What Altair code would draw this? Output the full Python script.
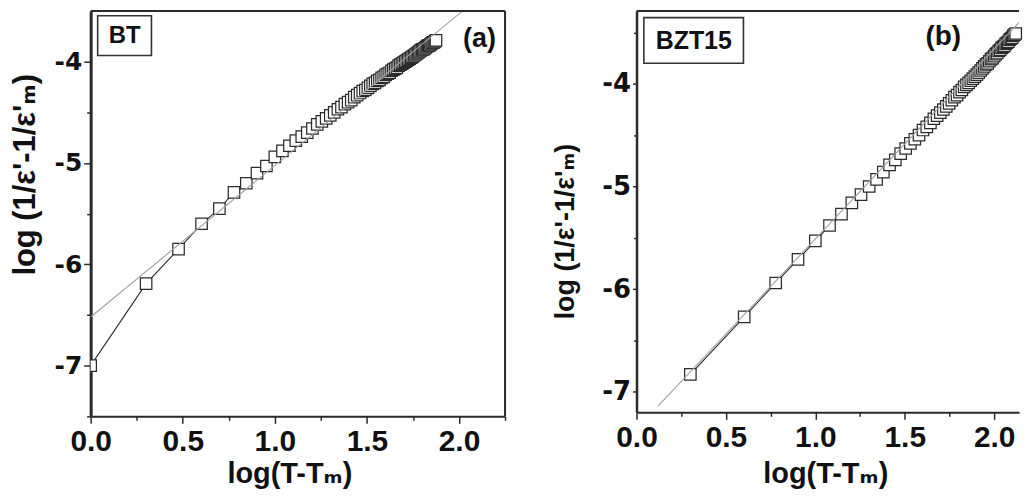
import altair as alt
import pandas as pd
import numpy as np

# ---------------- data ----------------
# Panel (a): BT
bt_dT = list(range(1, 76))
bt_y = [-7.00, -6.19, -5.85, -5.60, -5.45, -5.29, -5.20, -5.10, -5.03, -4.94,
        -4.88, -4.83, -4.78, -4.74, -4.70, -4.66, -4.62, -4.59, -4.56, -4.53,
        -4.50, -4.47, -4.45, -4.42, -4.40, -4.38, -4.35, -4.33, -4.31, -4.29,
        -4.28, -4.26, -4.24, -4.22, -4.21, -4.19, -4.18, -4.16, -4.15, -4.13,
        -4.12, -4.11, -4.09, -4.08, -4.07, -4.06, -4.04, -4.03, -4.02, -4.01,
        -4.00, -3.99, -3.98, -3.97, -3.96, -3.95, -3.94, -3.93, -3.92, -3.91,
        -3.90, -3.89, -3.88, -3.88, -3.87, -3.86, -3.85, -3.84, -3.84, -3.83,
        -3.82, -3.81, -3.81, -3.80, -3.79]
bt_fit_x = [0.0, 2.02]
bt_fit_y = [-6.52, -3.50]

# Panel (b): BZT15
bzt_dT = list(range(2, 133, 2))
bzt_y = [-6.83, -6.27, -5.94, -5.71, -5.53, -5.38, -5.27, -5.16, -5.08, -5.00,
         -4.93, -4.86, -4.79, -4.74, -4.68, -4.63, -4.58, -4.54, -4.50, -4.45,
         -4.42, -4.38, -4.34, -4.31, -4.28, -4.25, -4.22, -4.19, -4.16, -4.13,
         -4.11, -4.08, -4.06, -4.03, -4.01, -3.99, -3.97, -3.95, -3.93, -3.91,
         -3.89, -3.87, -3.85, -3.83, -3.81, -3.80, -3.78, -3.76, -3.75, -3.73,
         -3.71, -3.70, -3.68, -3.67, -3.65, -3.64, -3.63, -3.61, -3.60, -3.59,
         -3.57, -3.56, -3.55, -3.53, -3.52, -3.51]
bzt_fit_x = [0.12, 2.20]
bzt_fit_y = [-7.14, -3.29]

# tick values (the top tick of panel a coincides with the frame)
bt_xticks = [0.0, 0.25, 0.5, 0.75, 1.0, 1.25, 1.5, 1.75, 2.0, 2.25]
bt_yticks = [-7.5, -7.0, -6.5, -6.0, -5.5, -5.0, -4.5, -4.0]
bzt_xticks = [0.0, 0.25, 0.5, 0.75, 1.0, 1.25, 1.5, 1.75, 2.0]
bzt_yticks = [-7.0, -6.5, -6.0, -5.5, -5.0, -4.5, -4.0, -3.5]

# annotations (sample label box + panel letter)
bt_box = {"x": [0.038], "x2": [0.33], "y": [-3.548], "y2": [-3.94]}
bt_texts = {"x": [0.184, 2.111], "y": [-3.744, -3.779], "t": ["BT", "(a)"], "fs": [24, 27]}
bzt_box = {"x": [0.041], "x2": [0.598], "y": [-3.355], "y2": [-3.80]}
bzt_texts = {"x": [0.32, 1.715], "y": [-3.58, -3.549], "t": ["BZT15", "(b)"], "fs": [25, 28]}

X_TITLE = "log(T-T\u2098)"
Y_TITLE = "log (1/\u03b5'-1/\u03b5'\u2098)"

INK = "#2a2a2a"
TXT = "#111111"
SANS = "Liberation Sans, Arial, DejaVu Sans, Noto Sans"
WIDE = "DejaVu Sans, Liberation Sans"


def panel(dT, yv, fx, fy, box, texts, W, H, xdom, ydom, xticks, yticks,
          xtitle_x, xtitle_y, ytitle_x, ytitle_y, ytitle_fs, ylab_fs,
          ytick_major, ytick_minor, left_w, right_border, clip_pts):
    df = pd.DataFrame({"x": np.log10(np.array(dT, dtype=float)), "y": yv})
    fit = pd.DataFrame({"x": fx, "y": fy})
    xmaj = "abs(datum.value*2 - round(datum.value*2)) < 0.001"
    ymaj = "abs(datum.value - round(datum.value)) < 0.001"
    xscale = alt.Scale(domain=xdom, nice=False, zero=False)
    yscale = alt.Scale(domain=ydom, nice=False, zero=False)
    xaxis = alt.Axis(
        values=xticks, grid=False,
        labelExpr=f"({xmaj}) ? format(datum.value, '.1f') : ''",
        tickSize={"condition": {"test": xmaj, "value": 7}, "value": 4},
        tickWidth=1.5, tickColor=INK, domainColor=INK, domainWidth=2,
        labelFont=SANS, labelFontWeight="bold", labelFontSize=30, labelColor=TXT,
        labelPadding=3, labelFlush=False, labelOverlap=False,
        title=X_TITLE, titleFont=SANS, titleFontSize=29, titleFontWeight="bold",
        titleColor=TXT, titleX=xtitle_x, titleY=xtitle_y, titleAlign="center",
        titleBaseline="alphabetic")
    yaxis = alt.Axis(
        values=yticks, grid=False,
        labelExpr=f"({ymaj}) ? '' + round(datum.value) : ''",
        tickSize={"condition": {"test": ymaj, "value": ytick_major}, "value": ytick_minor},
        tickWidth=1.5, tickColor=INK, domainColor=INK, domainWidth=left_w,
        labelFont=WIDE, labelFontWeight="bold", labelFontSize=ylab_fs, labelColor=TXT,
        labelPadding=2, labelFlush=False, labelOverlap=False, labelBaseline="middle",
        title=Y_TITLE, titleFont=SANS, titleFontSize=ytitle_fs, titleFontWeight="bold",
        titleColor=TXT, titleX=ytitle_x, titleY=ytitle_y, titleAngle=270,
        titleAlign="center", titleBaseline="alphabetic")

    base = alt.Chart(df)
    line = base.mark_line(color=INK, strokeWidth=1.1, clip=True).encode(
        x=alt.X("x:Q", scale=xscale, axis=xaxis),
        y=alt.Y("y:Q", scale=yscale, axis=yaxis),
        order="x:Q")
    pts = base.mark_point(shape="square", size=132, filled=False, fill="white",
                          fillOpacity=1, stroke=INK, strokeWidth=1.25, opacity=1,
                          clip=clip_pts).encode(x="x:Q", y="y:Q")
    fitl = alt.Chart(fit).mark_line(color="#a0a0a0", strokeWidth=1.1, clip=True).encode(
        x="x:Q", y="y:Q")
    boxl = alt.Chart(pd.DataFrame(box)).mark_rect(
        fill="white", stroke="#333333", strokeWidth=1.6).encode(
        x="x:Q", x2="x2:Q", y="y:Q", y2="y2:Q")
    txt = alt.Chart(pd.DataFrame(texts)).mark_text(
        font=SANS, fontWeight="bold", color=TXT, align="center", baseline="middle").encode(
        x="x:Q", y="y:Q", text="t:N", size=alt.Size("fs:Q", scale=None, legend=None))
    one = pd.DataFrame({"k": [0]})
    top = alt.Chart(one).mark_rule(color=INK, strokeWidth=2).encode(
        x=alt.value(0), x2=alt.value(W), y=alt.value(0))
    layers = [line, pts, fitl, boxl, txt, top]
    if right_border:
        right = alt.Chart(one).mark_rule(color=INK, strokeWidth=2).encode(
            x=alt.value(W), y=alt.value(0), y2=alt.value(H))
        layers.append(right)
    return alt.layer(*layers).properties(width=W, height=H)


pa = panel(bt_dT, bt_y, bt_fit_x, bt_fit_y, bt_box, bt_texts,
           416, 407, [0, 2.25], [-7.5, -3.5], bt_xticks, bt_yticks,
           199.5, 66, -56, 164, 31, 25, 7, 4, 3, True, True)
pb = panel(bzt_dT, bzt_y, bzt_fit_x, bzt_fit_y, bzt_box, bzt_texts,
           384, 403, [0, 2.139], [-7.2, -3.29], bzt_xticks, bzt_yticks,
           189.5, 70, -63, 221, 27, 26, 4, 3, 2.5, False, False)

chart = alt.hconcat(pa, pb, spacing=132, bounds="flush").properties(
    autosize=alt.AutoSizeParams(type="pad"),
    padding={"left": 2, "top": 1, "right": 0, "bottom": 0},
    background="white",
).configure_view(stroke=None)

chart.save("out.html", embed_options={"renderer": "svg", "actions": False})
